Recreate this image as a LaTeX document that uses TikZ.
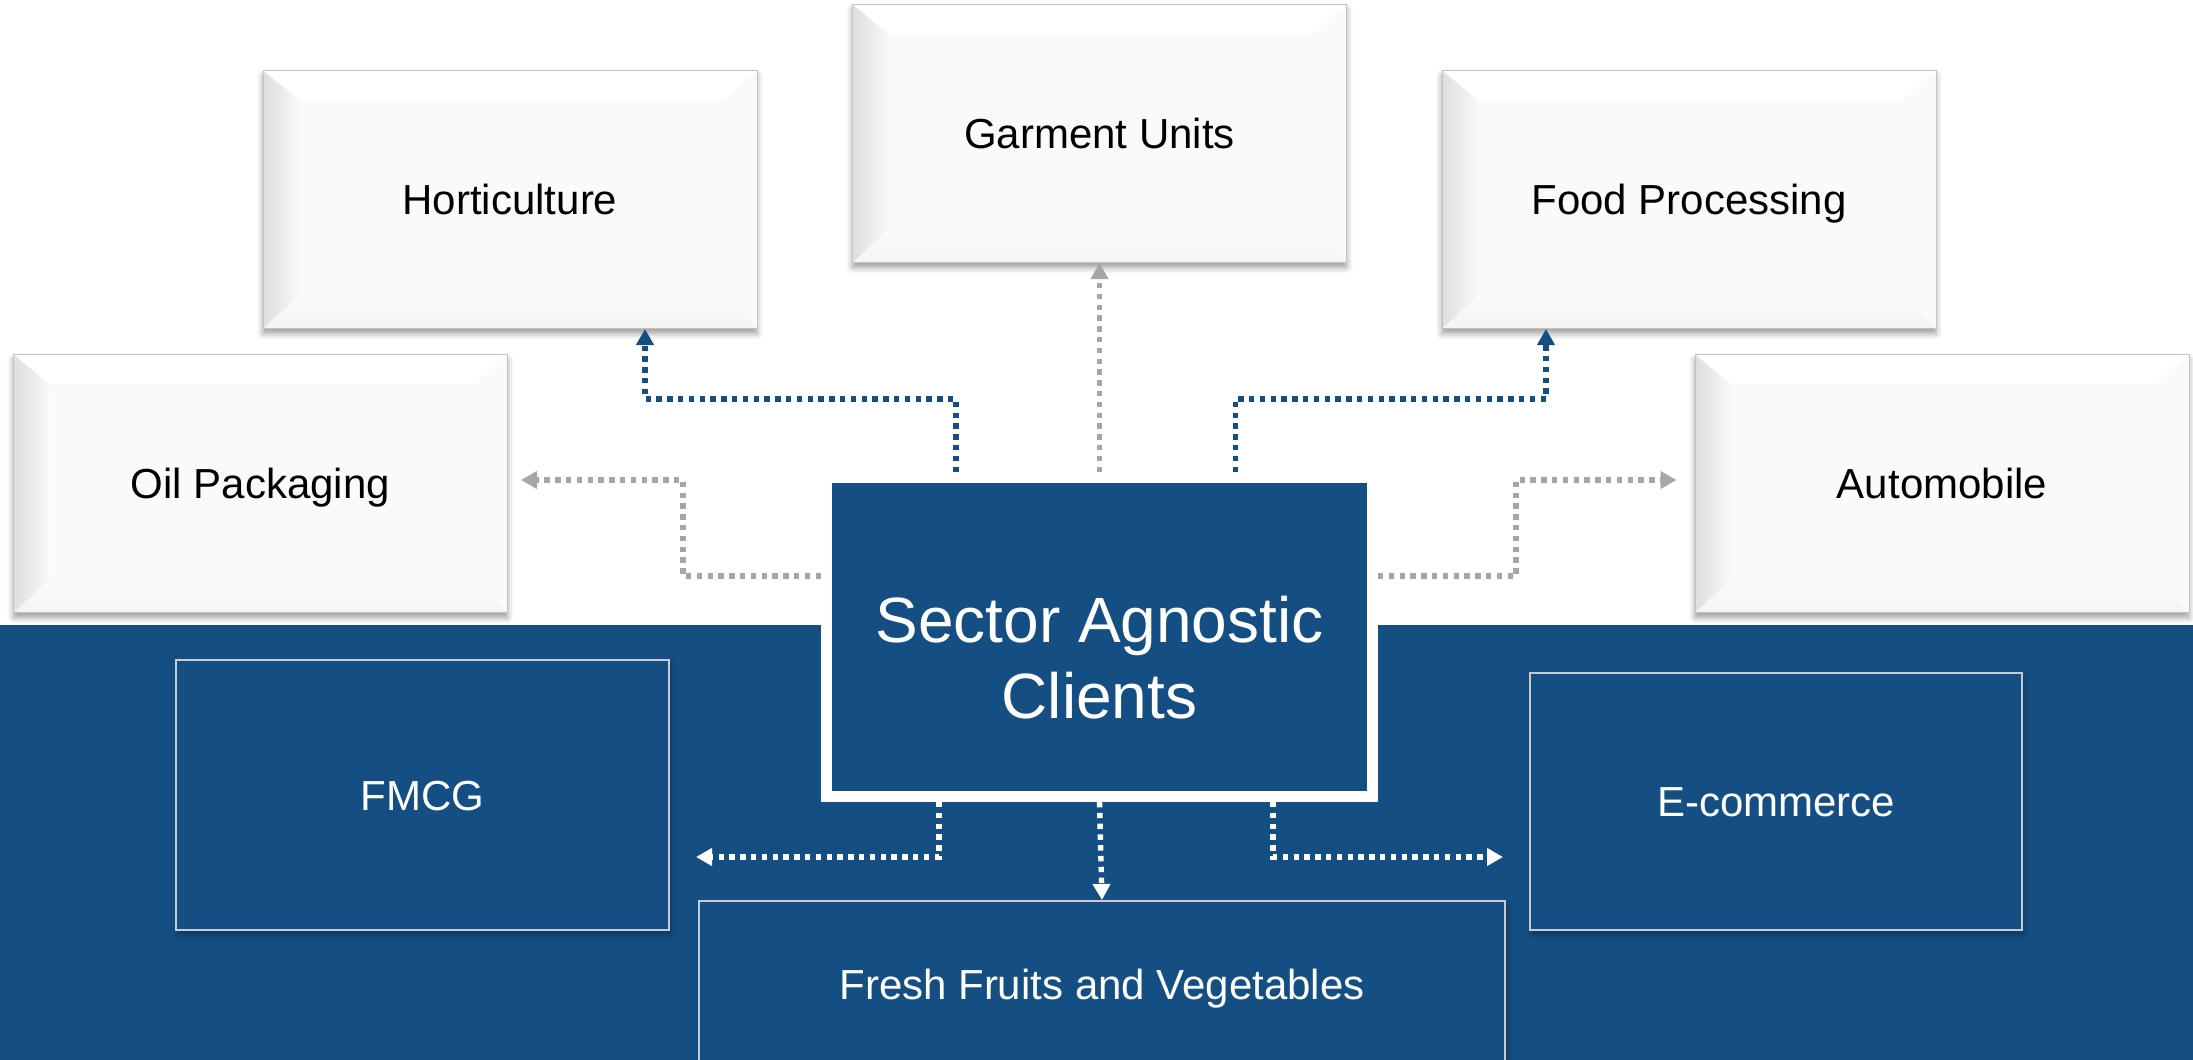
\documentclass[tikz,border=0pt]{standalone}
\usepackage{fontspec}
\setmainfont{Liberation Sans}
\usetikzlibrary{arrows.meta,calc,shadows.blur}
\definecolor{scblue}{HTML}{144E82}
\definecolor{scgray}{HTML}{A6A6A6}
\definecolor{scface}{HTML}{FAFAFA}
\definecolor{scedge}{HTML}{C2C2C2}
\definecolor{scframe}{HTML}{C8CCD2}
\tikzset{
  sectorbox/.style={
    rectangle,
    fill=scface,
    draw=scedge,
    line width=1pt,
    minimum width=494pt,
    minimum height=258pt,
    text height=30pt,
    text depth=0pt,
    font=\fontsize{42}{50}\selectfont,
    blur shadow={shadow xshift=0pt, shadow yshift=-5pt,
                 shadow blur radius=6pt, shadow opacity=40},
    path picture={
      \coordinate (bnw) at (path picture bounding box.north west);
      \coordinate (bse) at (path picture bounding box.south east);
      \fill[white] (bnw) -- (bnw -| bse) -- ($(bnw -| bse)+(-33,30)$)
        -- ($(bnw)+(36,30)$) -- cycle;
      \fill[gray!4] (bse) -- ($(bse)+(-33,-33)$)
        -- ($(bnw -| bse)+(-33,30)$) -- (bnw -| bse) -- cycle;
      \fill[top color=gray!3, bottom color=gray!9] (bse -| bnw)
        -- ($(bse -| bnw)+(36,-33)$) -- ($(bse)+(-33,-33)$) -- (bse) -- cycle;
      \fill[left color=gray!26, right color=gray!5] (bnw)
        -- ($(bnw)+(36,30)$) -- ($(bse -| bnw)+(36,-33)$) -- (bse -| bnw) -- cycle;
    }
  },
  marketbox/.style={
    rectangle,
    fill=scblue,
    draw=scframe,
    line width=2pt,
    text=white,
    text height=30pt,
    text depth=0pt,
    font=\fontsize{42}{50}\selectfont,
    blur shadow={shadow xshift=2pt, shadow yshift=-4pt,
                 shadow blur radius=5pt, shadow opacity=30}
  },
  hubbox/.style={
    rectangle,
    fill=scblue,
    draw=white,
    line width=11pt,
    minimum width=546pt,
    minimum height=319pt
  },
  hubtitle/.style={text=white, align=center, font=\fontsize{64}{76}\selectfont},
  blueflow/.style={
    -{Triangle[length=16pt,width=17pt]},
    line width=5.4pt,
    dash pattern=on 5.4pt off 5.4pt,
    draw=scblue
  },
  grayflow/.style={blueflow, draw=scgray},
  whiteflow/.style={blueflow, draw=white}
}
\begin{document}
\begin{tikzpicture}[x=1pt, y=-1pt]
  \useasboundingbox (0,0) rectangle (2193,1060);
  \fill[scblue] (0,625) rectangle (2193,1060);

  \node[sectorbox] (horti) at (510,199.5) {Horticulture};
  \node[sectorbox] (garment) at (1099.5,133.5) {Garment Units};
  \node[sectorbox] (food) at (1689,199.5) {Food Processing};
  \node[sectorbox] (oil) at (260.5,483.5) {Oil Packaging};
  \node[sectorbox] (auto) at (1942,483.5) {Automobile};

  \node[marketbox, minimum width=493pt, minimum height=270pt] (fmcg)
    at (422.5,795) {FMCG};
  \node[marketbox, minimum width=492pt, minimum height=257pt] (ecom)
    at (1776,801.5) {E-commerce};
  \node[marketbox, minimum width=806pt, minimum height=166pt] (fresh)
    at (1102,984) {Fresh Fruits and Vegetables};

  \node[hubbox] (hub) at (1099.5,637) {};
  \node[hubtitle] (hubtitle) at ([yshift=-21pt]hub.center)
    {Sector Agnostic\\Clients};

  % upper sectors
  \draw[blueflow] ([xshift=-143.5pt]hub.north) -- ++(0,-73)
    -| ([xshift=135pt]horti.south);
  \draw[grayflow] (hub.north) -- (garment.south);
  \draw[blueflow] ([xshift=136pt]hub.north) -- ++(0,-73)
    -| ([xshift=-143pt]food.south);
  \draw[grayflow, shorten >=13pt] ([yshift=61pt]hub.west) -- ++(-138,0)
    |- ([yshift=3.5pt]oil.east);
  \draw[grayflow, shorten >=18pt] ([yshift=61pt]hub.east) -- ++(138,0)
    |- ([yshift=3.5pt]auto.west);

  % lower sectors
  \draw[whiteflow, shorten >=26pt] ([xshift=-160.5pt]hub.south)
    |- ([yshift=-62pt]fmcg.east);
  \draw[whiteflow] (hub.south) -- (fresh.north);
  \draw[whiteflow, shorten >=26pt] ([xshift=173.5pt]hub.south)
    |- ([yshift=-55.5pt]ecom.west);
\end{tikzpicture}
\end{document}
